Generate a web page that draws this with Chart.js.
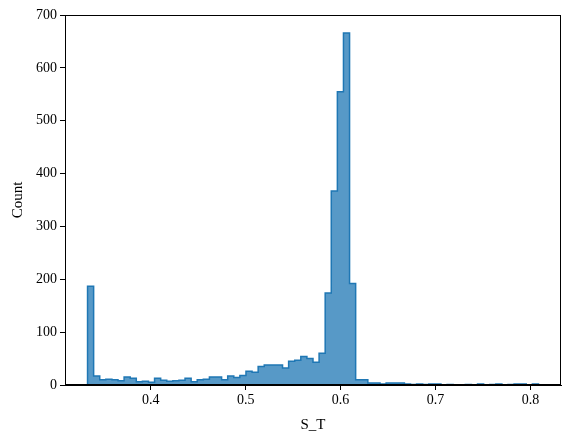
<!DOCTYPE html>
<html>
<head>
<meta charset="utf-8">
<script src="https://cdn.jsdelivr.net/npm/chart.js@4"></script>
<style>
  html, body { margin: 0; padding: 0; background: #fff; }
  #wrap { width: 571px; height: 441px; }
</style>
</head>
<body>
<div id="wrap"><canvas id="c" width="571" height="441"></canvas></div>
<script>
// Histogram of S_T
const binStart = 0.33337;
const binWidth = 0.00642;
const counts = [
  187, 17, 10, 11, 10, 8, 15, 13, 6, 7,
  5, 13, 9, 7, 8, 9, 13, 6, 10, 11,
  15, 15, 10, 17, 14, 18, 26, 24, 35, 38,
  38, 38, 32, 45, 47, 54, 50, 43, 60, 174,
  367, 555, 666, 192, 10, 10, 4, 4, 2, 4,
  4, 4, 2, 1, 2, 1, 2, 2, 0, 1,
  0, 0, 1, 0, 2, 0, 1, 2, 0, 1,
  2, 2, 0, 2
];
const xTicks = [0.4, 0.5, 0.6, 0.7, 0.8];
const yTicks = [0, 100, 200, 300, 400, 500, 600, 700];
const xLabel = 'S_T';
const yLabel = 'Count';

const nBins = counts.length;
const edge = i => binStart + i * binWidth;
const pts = [{ x: edge(0), y: 0 }];
counts.forEach((c, i) => pts.push({ x: edge(i), y: c }));
pts.push({ x: edge(nBins), y: counts[nBins - 1] });
pts.push({ x: edge(nBins), y: 0 });

const xMin = edge(0) - 0.05 * (edge(nBins) - edge(0));
const xMax = edge(nBins) + 0.05 * (edge(nBins) - edge(0));

const tickFont = { family: 'Liberation Serif', size: 14 };
const titleFont = { family: 'Liberation Serif', size: 15 };

const boxPlugin = {
  id: 'box',
  afterDraw(chart) {
    const { ctx, chartArea: a } = chart;
    ctx.save();
    ctx.strokeStyle = '#000';
    ctx.lineWidth = 1;
    ctx.strokeRect(a.left + 0.5, a.top + 0.5, a.right - a.left - 1, a.bottom - a.top - 1);
    ctx.restore();
  }
};

new Chart(document.getElementById('c'), {
  type: 'line',
  data: {
    datasets: [{
      data: pts,
      stepped: 'before',
      fill: 'origin',
      backgroundColor: 'rgba(31,119,180,0.75)',
      borderColor: '#1f77b4',
      borderWidth: 1.5,
      pointRadius: 0,
      tension: 0
    }]
  },
  options: {
    responsive: false,
    animation: false,
    layout: { padding: { left: 0, right: 10, top: 15, bottom: 0 } },
    plugins: { legend: { display: false }, tooltip: { enabled: false } },
    scales: {
      x: {
        type: 'linear',
        min: xMin,
        max: xMax,
        afterBuildTicks: s => { s.ticks = xTicks.map(v => ({ value: v })); },
        afterFit: s => { s.height = 56; },
        ticks: {
          color: '#000',
          font: tickFont,
          padding: 2,
          maxRotation: 0,
          callback: v => v.toFixed(1)
        },
        grid: { display: true, drawOnChartArea: false, drawTicks: true, tickLength: 5, tickColor: '#000', tickWidth: 1 },
        border: { display: true, color: '#000', width: 1 },
        title: { display: true, text: xLabel, color: '#000', font: titleFont, padding: { top: 2, bottom: 7 } }
      },
      y: {
        type: 'linear',
        min: 0,
        max: 700,
        afterBuildTicks: s => { s.ticks = yTicks.map(v => ({ value: v })); },
        afterFit: s => { s.width = 65; },
        ticks: { color: '#000', font: tickFont, padding: 3 },
        grid: { display: true, drawOnChartArea: false, drawTicks: true, tickLength: 5, tickColor: '#000', tickWidth: 1 },
        border: { display: true, color: '#000', width: 1 },
        title: { display: true, text: yLabel, color: '#000', font: titleFont, padding: { top: 9, bottom: 6 } }
      }
    }
  },
  plugins: [boxPlugin]
});
</script>
</body>
</html>
